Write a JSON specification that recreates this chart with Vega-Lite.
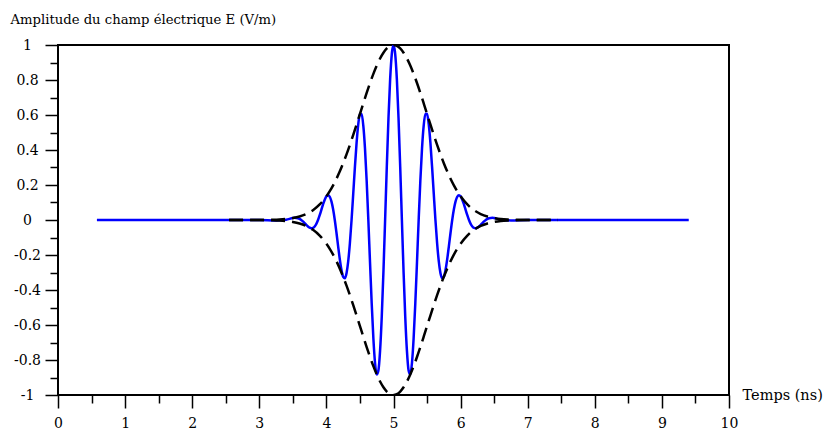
{
  "$schema": "https://vega.github.io/schema/vega-lite/v6.json",
  "autosize": "none",
  "width": 671,
  "height": 350,
  "padding": {"left": 58, "top": 45, "right": 95, "bottom": 36},
  "background": "white",
  "config": {
    "view": {"stroke": "black", "strokeWidth": 2},
    "axis": {
      "domain": false,
      "grid": false,
      "tickColor": "black",
      "tickWidth": 1.5,
      "labelFont": "DejaVu Serif",
      "labelFontSize": 14,
      "labelColor": "black",
      "labelFlush": false,
      "labelOverlap": false,
      "titleFont": "DejaVu Serif",
      "titleFontWeight": "normal",
      "titleColor": "black"
    }
  },
  "datasets": {
    "signal": [
      {"t": 0.58, "E": 0},
      {"t": 3.0, "E": 0.0003},
      {"t": 3.25, "E": -0.0022},
      {"t": 3.4, "E": 0.0018},
      {"t": 3.5, "E": 0.01111},
      {"t": 3.525, "E": 0.01226},
      {"t": 3.55, "E": 0.01207},
      {"t": 3.575, "E": 0.01013},
      {"t": 3.6, "E": 0.00613},
      {"t": 3.625, "E": 0},
      {"t": 3.65, "E": -0.00807},
      {"t": 3.675, "E": -0.01755},
      {"t": 3.7, "E": -0.02755},
      {"t": 3.725, "E": -0.03683},
      {"t": 3.75, "E": -0.04394},
      {"t": 3.775, "E": -0.04729},
      {"t": 3.8, "E": -0.04541},
      {"t": 3.825, "E": -0.03715},
      {"t": 3.85, "E": -0.02194},
      {"t": 3.875, "E": 0},
      {"t": 3.9, "E": 0.02748},
      {"t": 3.925, "E": 0.05827},
      {"t": 3.95, "E": 0.08919},
      {"t": 3.975, "E": 0.11631},
      {"t": 4.0, "E": 0.13534},
      {"t": 4.025, "E": 0.14207},
      {"t": 4.05, "E": 0.13306},
      {"t": 4.075, "E": 0.10618},
      {"t": 4.1, "E": 0.06116},
      {"t": 4.125, "E": 0},
      {"t": 4.15, "E": -0.07285},
      {"t": 4.175, "E": -0.15067},
      {"t": 4.2, "E": -0.22494},
      {"t": 4.225, "E": -0.2861},
      {"t": 4.25, "E": -0.32465},
      {"t": 4.275, "E": -0.3324},
      {"t": 4.3, "E": -0.30363},
      {"t": 4.325, "E": -0.2363},
      {"t": 4.35, "E": -0.13274},
      {"t": 4.375, "E": 0},
      {"t": 4.4, "E": 0.15042},
      {"t": 4.425, "E": 0.30342},
      {"t": 4.45, "E": 0.44178},
      {"t": 4.475, "E": 0.54803},
      {"t": 4.5, "E": 0.60653},
      {"t": 4.525, "E": 0.60566},
      {"t": 4.55, "E": 0.5396},
      {"t": 4.575, "E": 0.40958},
      {"t": 4.6, "E": 0.2244},
      {"t": 4.625, "E": 0},
      {"t": 4.65, "E": -0.24187},
      {"t": 4.675, "E": -0.47586},
      {"t": 4.7, "E": -0.67575},
      {"t": 4.725, "E": -0.81756},
      {"t": 4.75, "E": -0.8825},
      {"t": 4.775, "E": -0.85948},
      {"t": 4.8, "E": -0.74682},
      {"t": 4.825, "E": -0.55287},
      {"t": 4.85, "E": -0.29542},
      {"t": 4.875, "E": 0},
      {"t": 4.9, "E": 0.3029},
      {"t": 4.925, "E": 0.58121},
      {"t": 4.95, "E": 0.80498},
      {"t": 4.975, "E": 0.94987},
      {"t": 5.0, "E": 1},
      {"t": 5.025, "E": 0.94987},
      {"t": 5.05, "E": 0.80498},
      {"t": 5.075, "E": 0.58121},
      {"t": 5.1, "E": 0.3029},
      {"t": 5.125, "E": 0},
      {"t": 5.15, "E": -0.29542},
      {"t": 5.175, "E": -0.55287},
      {"t": 5.2, "E": -0.74682},
      {"t": 5.225, "E": -0.85948},
      {"t": 5.25, "E": -0.8825},
      {"t": 5.275, "E": -0.81756},
      {"t": 5.3, "E": -0.67575},
      {"t": 5.325, "E": -0.47586},
      {"t": 5.35, "E": -0.24187},
      {"t": 5.375, "E": 0},
      {"t": 5.4, "E": 0.2244},
      {"t": 5.425, "E": 0.40958},
      {"t": 5.45, "E": 0.5396},
      {"t": 5.475, "E": 0.60566},
      {"t": 5.5, "E": 0.60653},
      {"t": 5.525, "E": 0.54803},
      {"t": 5.55, "E": 0.44178},
      {"t": 5.575, "E": 0.30342},
      {"t": 5.6, "E": 0.15042},
      {"t": 5.625, "E": 0},
      {"t": 5.65, "E": -0.13274},
      {"t": 5.675, "E": -0.2363},
      {"t": 5.7, "E": -0.30363},
      {"t": 5.725, "E": -0.3324},
      {"t": 5.75, "E": -0.32465},
      {"t": 5.775, "E": -0.2861},
      {"t": 5.8, "E": -0.22494},
      {"t": 5.825, "E": -0.15067},
      {"t": 5.85, "E": -0.07285},
      {"t": 5.875, "E": 0},
      {"t": 5.9, "E": 0.06116},
      {"t": 5.925, "E": 0.10618},
      {"t": 5.95, "E": 0.13306},
      {"t": 5.975, "E": 0.14207},
      {"t": 6.0, "E": 0.13534},
      {"t": 6.025, "E": 0.11631},
      {"t": 6.05, "E": 0.08919},
      {"t": 6.075, "E": 0.05827},
      {"t": 6.1, "E": 0.02748},
      {"t": 6.125, "E": 0},
      {"t": 6.15, "E": -0.02194},
      {"t": 6.175, "E": -0.03715},
      {"t": 6.2, "E": -0.04541},
      {"t": 6.225, "E": -0.04729},
      {"t": 6.25, "E": -0.04394},
      {"t": 6.275, "E": -0.03683},
      {"t": 6.3, "E": -0.02755},
      {"t": 6.325, "E": -0.01755},
      {"t": 6.35, "E": -0.00807},
      {"t": 6.375, "E": 0},
      {"t": 6.4, "E": 0.00613},
      {"t": 6.425, "E": 0.01013},
      {"t": 6.45, "E": 0.01207},
      {"t": 6.475, "E": 0.01226},
      {"t": 6.5, "E": 0.01111},
      {"t": 6.6, "E": 0.0018},
      {"t": 6.75, "E": -0.0022},
      {"t": 7.0, "E": 0.0003},
      {"t": 9.4, "E": 0}
    ],
    "enveloppe": [
      {"t": 2.55, "haut": 0, "bas": 0},
      {"t": 2.8, "haut": 0.00006, "bas": -0.00006},
      {"t": 3.0, "haut": 0.00034, "bas": -0.00034},
      {"t": 3.2, "haut": 0.00154, "bas": -0.00154},
      {"t": 3.3, "haut": 0.00309, "bas": -0.00309},
      {"t": 3.4, "haut": 0.00598, "bas": -0.00598},
      {"t": 3.5, "haut": 0.01111, "bas": -0.01111},
      {"t": 3.6, "haut": 0.01984, "bas": -0.01984},
      {"t": 3.7, "haut": 0.03405, "bas": -0.03405},
      {"t": 3.8, "haut": 0.05613, "bas": -0.05613},
      {"t": 3.9, "haut": 0.08892, "bas": -0.08892},
      {"t": 4.0, "haut": 0.13534, "bas": -0.13534},
      {"t": 4.05, "haut": 0.16447, "bas": -0.16447},
      {"t": 4.1, "haut": 0.1979, "bas": -0.1979},
      {"t": 4.15, "haut": 0.23575, "bas": -0.23575},
      {"t": 4.2, "haut": 0.27804, "bas": -0.27804},
      {"t": 4.25, "haut": 0.32465, "bas": -0.32465},
      {"t": 4.3, "haut": 0.37531, "bas": -0.37531},
      {"t": 4.35, "haut": 0.42956, "bas": -0.42956},
      {"t": 4.4, "haut": 0.48675, "bas": -0.48675},
      {"t": 4.45, "haut": 0.54607, "bas": -0.54607},
      {"t": 4.5, "haut": 0.60653, "bas": -0.60653},
      {"t": 4.55, "haut": 0.66698, "bas": -0.66698},
      {"t": 4.6, "haut": 0.72615, "bas": -0.72615},
      {"t": 4.65, "haut": 0.7827, "bas": -0.7827},
      {"t": 4.7, "haut": 0.83527, "bas": -0.83527},
      {"t": 4.75, "haut": 0.8825, "bas": -0.8825},
      {"t": 4.8, "haut": 0.92312, "bas": -0.92312},
      {"t": 4.85, "haut": 0.956, "bas": -0.956},
      {"t": 4.9, "haut": 0.9802, "bas": -0.9802},
      {"t": 4.95, "haut": 0.99501, "bas": -0.99501},
      {"t": 5.0, "haut": 1, "bas": -1},
      {"t": 5.05, "haut": 0.99501, "bas": -0.99501},
      {"t": 5.1, "haut": 0.9802, "bas": -0.9802},
      {"t": 5.15, "haut": 0.956, "bas": -0.956},
      {"t": 5.2, "haut": 0.92312, "bas": -0.92312},
      {"t": 5.25, "haut": 0.8825, "bas": -0.8825},
      {"t": 5.3, "haut": 0.83527, "bas": -0.83527},
      {"t": 5.35, "haut": 0.7827, "bas": -0.7827},
      {"t": 5.4, "haut": 0.72615, "bas": -0.72615},
      {"t": 5.45, "haut": 0.66698, "bas": -0.66698},
      {"t": 5.5, "haut": 0.60653, "bas": -0.60653},
      {"t": 5.55, "haut": 0.54607, "bas": -0.54607},
      {"t": 5.6, "haut": 0.48675, "bas": -0.48675},
      {"t": 5.65, "haut": 0.42956, "bas": -0.42956},
      {"t": 5.7, "haut": 0.37531, "bas": -0.37531},
      {"t": 5.75, "haut": 0.32465, "bas": -0.32465},
      {"t": 5.8, "haut": 0.27804, "bas": -0.27804},
      {"t": 5.85, "haut": 0.23575, "bas": -0.23575},
      {"t": 5.9, "haut": 0.1979, "bas": -0.1979},
      {"t": 5.95, "haut": 0.16447, "bas": -0.16447},
      {"t": 6.0, "haut": 0.13534, "bas": -0.13534},
      {"t": 6.1, "haut": 0.08892, "bas": -0.08892},
      {"t": 6.2, "haut": 0.05613, "bas": -0.05613},
      {"t": 6.3, "haut": 0.03405, "bas": -0.03405},
      {"t": 6.4, "haut": 0.01984, "bas": -0.01984},
      {"t": 6.5, "haut": 0.01111, "bas": -0.01111},
      {"t": 6.6, "haut": 0.00598, "bas": -0.00598},
      {"t": 6.7, "haut": 0.00309, "bas": -0.00309},
      {"t": 6.8, "haut": 0.00154, "bas": -0.00154},
      {"t": 7.0, "haut": 0.00034, "bas": -0.00034},
      {"t": 7.2, "haut": 0.00006, "bas": -0.00006},
      {"t": 7.45, "haut": 0, "bas": 0}
    ]
  },
  "encoding": {
    "x": {
      "type": "quantitative",
      "scale": {"domain": [0, 10], "nice": false, "zero": false},
      "axis": {
        "orient": "bottom",
        "title": "Temps (ns)",
        "titleFontSize": 14.5,
        "titleAlign": "left",
        "titleBaseline": "middle",
        "titleX": 684,
        "titleY": 0,
        "values": [0, 0.5, 1, 1.5, 2, 2.5, 3, 3.5, 4, 4.5, 5, 5.5, 6, 6.5, 7, 7.5, 8, 8.5, 9, 9.5, 10],
        "tickSize": {"condition": {"test": "datum.value % 1 !== 0", "value": 8}, "value": 13},
        "labelExpr": "datum.value % 1 !== 0 ? '' : '' + datum.value",
        "labelPadding": 8
      }
    },
    "y": {
      "type": "quantitative",
      "scale": {"domain": [-1, 1], "nice": false, "zero": false},
      "axis": {
        "orient": "left",
        "title": "Amplitude du champ électrique E (V/m)",
        "titleFontSize": 13.2,
        "titleAngle": 0,
        "titleAlign": "left",
        "titleBaseline": "alphabetic",
        "titleX": -48,
        "titleY": -22,
        "values": [-1, -0.9, -0.8, -0.7, -0.6, -0.5, -0.4, -0.3, -0.2, -0.1, 0, 0.1, 0.2, 0.3, 0.4, 0.5, 0.6, 0.7, 0.8, 0.9, 1],
        "tickSize": {"condition": {"test": "abs(round(datum.value * 5) - datum.value * 5) > 0.01", "value": 8}, "value": 13},
        "labelExpr": "abs(round(datum.value * 5) - datum.value * 5) > 0.01 ? '' : '' + round(datum.value * 10) / 10",
        "labelAlign": "center",
        "labelPadding": 18
      }
    }
  },
  "layer": [
    {
      "data": {"name": "signal"},
      "mark": {"type": "line", "color": "#0000ff", "strokeWidth": 2.5, "interpolate": "monotone", "clip": true},
      "encoding": {"x": {"field": "t"}, "y": {"field": "E"}}
    },
    {
      "data": {"name": "enveloppe"},
      "mark": {"type": "line", "color": "black", "strokeWidth": 2.5, "strokeDash": [14, 7], "interpolate": "monotone", "clip": true},
      "encoding": {"x": {"field": "t"}, "y": {"field": "haut"}}
    },
    {
      "data": {"name": "enveloppe"},
      "mark": {"type": "line", "color": "black", "strokeWidth": 2.5, "strokeDash": [14, 7], "interpolate": "monotone", "clip": true},
      "encoding": {"x": {"field": "t"}, "y": {"field": "bas"}}
    }
  ]
}
